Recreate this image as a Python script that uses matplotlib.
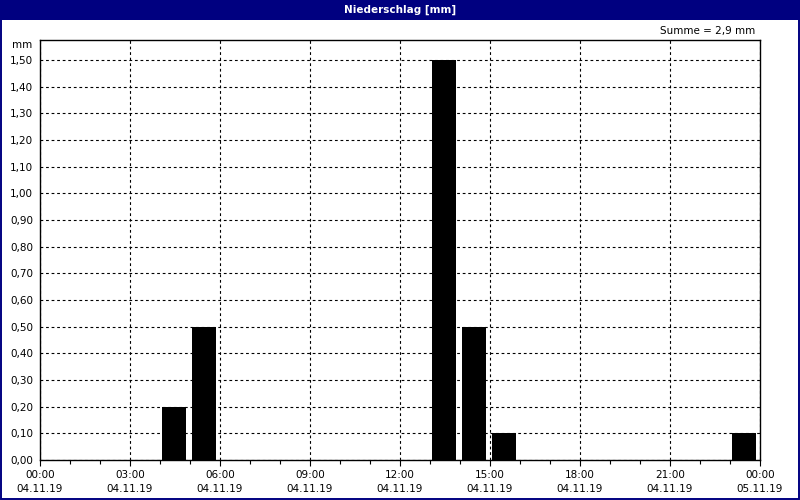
import matplotlib
matplotlib.use("Agg")
import matplotlib.pyplot as plt
from matplotlib.patches import Rectangle
from matplotlib.ticker import MultipleLocator, FuncFormatter

# Data: hourly precipitation (mm), hour index = start hour of the interval
hours = [4, 5, 13, 14, 15, 23]
values = [0.2, 0.5, 1.5, 0.5, 0.1, 0.1]
tick_hours = [0, 3, 6, 9, 12, 15, 18, 21, 24]
tick_times = ["00:00", "03:00", "06:00", "09:00", "12:00", "15:00", "18:00", "21:00", "00:00"]
tick_dates = ["04.11.19"] * 8 + ["05.11.19"]
title = "Niederschlag [mm]"
sum_text = "Summe = 2,9 mm"

navy = "#000080"
fs = 7.5

fig = plt.figure(figsize=(8, 5), dpi=100)
fig.patch.set_facecolor("white")

# title bar and border
fig.patches.append(Rectangle((0, 1 - 20/500), 1, 20/500, transform=fig.transFigure,
                             facecolor=navy, edgecolor="none", zorder=0))
fig.patches.append(Rectangle((1/800, 1/500), 798/800, 497/500, transform=fig.transFigure,
                             facecolor="none", edgecolor=navy, linewidth=1.4, zorder=5))
fig.text(0.5, 1 - 10/500, title, color="white", fontweight="bold", fontsize=fs,
         ha="center", va="center")

ax = fig.add_axes([40/800, 40/500, 720/800, 420/500])
ax.bar([h + 0.47 for h in hours], values, width=0.8, color="black", zorder=3)

ax.set_xlim(0, 24)
ax.set_ylim(0, 1.575)
ax.set_xticks(tick_hours)
ax.set_xticklabels(tick_times, fontsize=fs)
for h, d in zip(tick_hours, tick_dates):
    ax.text(h, -29/420, d, transform=ax.get_xaxis_transform(), fontsize=fs,
            ha="center", va="center")
ax.xaxis.set_minor_locator(MultipleLocator(1))
ax.yaxis.set_major_locator(MultipleLocator(0.1))
ax.yaxis.set_major_formatter(FuncFormatter(lambda v, p: f"{v:.2f}".replace(".", ",")))
ax.tick_params(axis="y", labelsize=fs, length=0, pad=5)
ax.tick_params(axis="x", which="major", length=4, width=0.8, direction="out", pad=3)
ax.tick_params(axis="x", which="minor", length=3, width=0.8, direction="out")

ax.grid(True, which="major", color="black", linestyle=(0, (2.5, 2.5)), linewidth=0.8, zorder=1)
ax.set_axisbelow(True)
for s in ax.spines.values():
    s.set_linewidth(1.0)
    s.set_color("black")

fig.text(32/800, 1 - 45/500, "mm", fontsize=fs, ha="right", va="center")
fig.text(755/800, 1 - 31/500, sum_text, fontsize=fs, ha="right", va="center")

fig.savefig("out.png", dpi=100)
